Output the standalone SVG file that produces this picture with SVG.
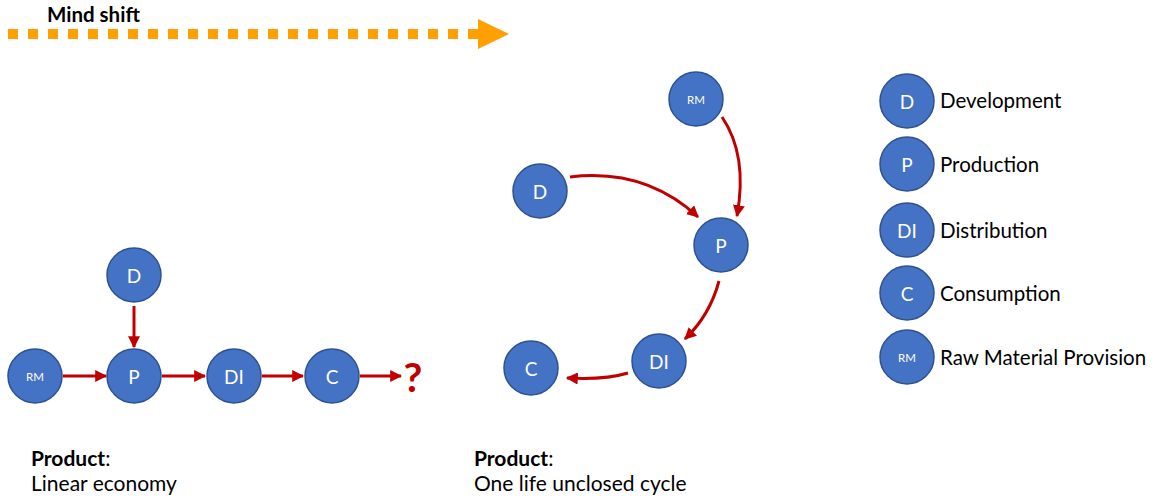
<svg xmlns="http://www.w3.org/2000/svg" width="1155" height="501" viewBox="0 0 1155 501">
  <style>
    .node circle { fill: #4472C4; stroke: #2F528F; stroke-width: 1.5; }
    .node text { fill: #FFFFFF; font-family: Lato, "Open Sans", sans-serif; font-size: 19px; text-anchor: middle; dominant-baseline: central; }
    .node text.small { font-size: 11.5px; }
    .flow { fill: none; stroke: #C00000; stroke-width: 3; marker-end: url(#redHead); }
    .label { fill: #000000; font-family: Lato, "Open Sans", sans-serif; font-size: 20.5px; }
    .caption { font-size: 21px; }
    .bold { font-weight: bold; }
  </style>
  <defs>
    <marker id="redHead" viewBox="0 0 10 10" refX="9" refY="5" markerWidth="4" markerHeight="4" orient="auto" markerUnits="strokeWidth">
      <path d="M0,0 L10,5 L0,10 Z" fill="#C00000"/>
    </marker>
  </defs>

  <rect width="1155" height="501" fill="#FFFFFF"/>

  <!-- Mind shift banner -->
  <g id="mind-shift">
    <text class="label bold" x="47" y="22" font-size="19.5">Mind shift</text>
    <line x1="8" y1="34" x2="478" y2="34" stroke="#FFA000" stroke-width="10" stroke-dasharray="10 10"/>
    <path d="M478,19 L509,34 L478,49 Z" fill="#FFA000"/>
  </g>

  <!-- Connectors -->
  <g id="connectors">
    <!-- linear economy -->
    <line class="flow" x1="134" y1="306" x2="134" y2="347"/>
    <line class="flow" x1="63" y1="376" x2="106" y2="376"/>
    <line class="flow" x1="162" y1="376" x2="205" y2="376"/>
    <line class="flow" x1="262" y1="376" x2="303" y2="376"/>
    <line class="flow" x1="360" y1="376" x2="401" y2="376"/>
    <!-- one life unclosed cycle -->
    <path class="flow" d="M722,117 Q748,155 737,216"/>
    <path class="flow" d="M570,177 Q645,168 698,217"/>
    <path class="flow" d="M719,281 Q710,315 685,339"/>
    <path class="flow" d="M628,373 Q605,380 567,378"/>
  </g>

  <text id="question" x="413" y="392" fill="#C00000" font-family="Lato, 'Open Sans', sans-serif" font-size="41" font-weight="bold" text-anchor="middle">?</text>

  <!-- Linear economy nodes -->
  <g id="lin-d" class="node"><circle cx="134" cy="275" r="27"/><text x="134" y="275">D</text></g>
  <g id="lin-rm" class="node"><circle cx="35" cy="376" r="27"/><text class="small" x="35" y="376">RM</text></g>
  <g id="lin-p" class="node"><circle cx="134" cy="376" r="27"/><text x="134" y="376">P</text></g>
  <g id="lin-di" class="node"><circle cx="234" cy="376" r="27"/><text x="234" y="376">DI</text></g>
  <g id="lin-c" class="node"><circle cx="332" cy="376" r="27"/><text x="332" y="376">C</text></g>

  <!-- Unclosed cycle nodes -->
  <g id="cyc-rm" class="node"><circle cx="696" cy="99" r="27"/><text class="small" x="696" y="99">RM</text></g>
  <g id="cyc-d" class="node"><circle cx="540" cy="191" r="27"/><text x="540" y="191">D</text></g>
  <g id="cyc-p" class="node"><circle cx="721" cy="245" r="27"/><text x="721" y="245">P</text></g>
  <g id="cyc-di" class="node"><circle cx="659" cy="361" r="27"/><text x="659" y="361">DI</text></g>
  <g id="cyc-c" class="node"><circle cx="531" cy="368" r="27"/><text x="531" y="368">C</text></g>

  <!-- Legend -->
  <g id="legend-d" class="node"><circle cx="907" cy="101" r="27"/><text x="907" y="101">D</text></g>
  <text class="label" x="940" y="108">Development</text>
  <g id="legend-p" class="node"><circle cx="907" cy="164" r="27"/><text x="907" y="164">P</text></g>
  <text class="label" x="940" y="172">Production</text>
  <g id="legend-di" class="node"><circle cx="907" cy="230" r="27"/><text x="907" y="230">DI</text></g>
  <text class="label" x="940" y="238">Distribution</text>
  <g id="legend-c" class="node"><circle cx="907" cy="293" r="27"/><text x="907" y="293">C</text></g>
  <text class="label" x="940" y="301">Consumption</text>
  <g id="legend-rm" class="node"><circle cx="907" cy="357" r="27"/><text class="small" x="907" y="357">RM</text></g>
  <text class="label" x="940" y="365">Raw Material Provision</text>

  <!-- Captions -->
  <g id="caption-linear">
    <text class="label caption" x="31" y="466"><tspan class="bold">Product</tspan>:</text>
    <text class="label caption" x="31" y="491">Linear economy</text>
  </g>
  <g id="caption-cycle">
    <text class="label caption" x="474" y="466"><tspan class="bold">Product</tspan>:</text>
    <text class="label caption" x="474" y="491">One life unclosed cycle</text>
  </g>
</svg>
